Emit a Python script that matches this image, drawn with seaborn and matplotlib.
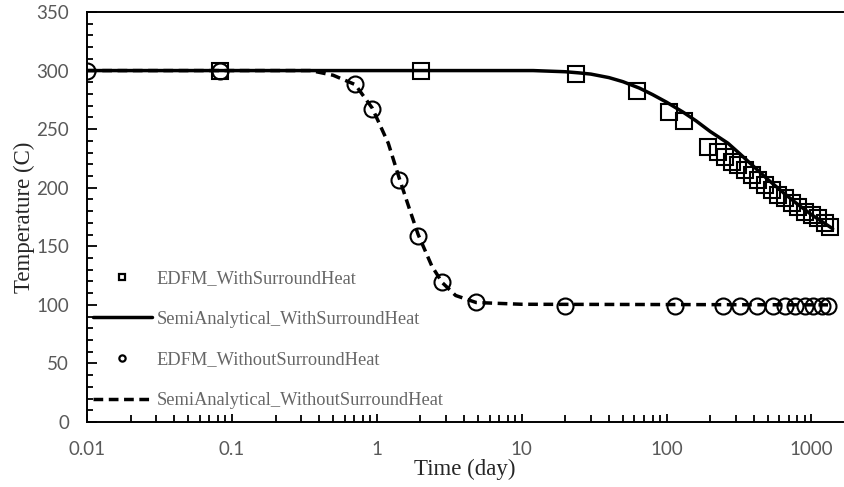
import matplotlib
matplotlib.use("Agg")
import matplotlib.pyplot as plt
from matplotlib.lines import Line2D
from matplotlib.ticker import LogLocator, FixedLocator, FixedFormatter, MultipleLocator, NullFormatter
import seaborn as sns
import numpy as np

# ---- data ----
edfm_with_t = [0.083, 2.03, 23.8, 62.7, 104, 132, 194, 227, 253, 283, 311, 348, 389, 428,
               478, 534, 588, 656, 734, 807, 902, 1008, 1108, 1238, 1342]
edfm_with_T = [300, 300, 297, 282.6, 264.6, 257, 234.8, 230.5, 226.2, 222, 219.4, 215.1,
               210.8, 206.6, 202.3, 198, 193.8, 191.2, 187, 183.5, 179.3, 176.7, 174.2,
               169.9, 166.5]

semi_with_t = [0.01, 12, 20, 25, 30, 40, 50, 65, 80, 100, 130, 160, 200, 265, 320, 400,
               500, 650, 800, 1000, 1400]
semi_with_T = [300, 300, 299, 298, 297, 294, 290.5, 285, 279.5, 273, 264.5, 257, 248, 238,
               229, 218, 207, 195, 186, 177, 165]

edfm_without_t = [0.01, 0.083, 0.71, 0.93, 1.43, 1.93, 2.83, 4.85, 20, 114, 245, 321, 421,
                  542, 656, 769, 901, 1024, 1180, 1299]
edfm_without_T = [300, 300, 288.5, 267, 206.6, 158.8, 119.5, 102.4, 99, 99, 99, 99, 99,
                  99, 99, 99, 99, 99, 99, 99]

semi_without_t = [0.01, 0.35, 0.5, 0.71, 0.93, 1.2, 1.43, 1.7, 1.93, 2.4, 2.83, 3.5, 4.85,
                  10, 1300]
semi_without_T = [300, 300, 296, 288, 268, 238, 208, 180, 160, 133, 119, 108, 102, 100.5, 100]

labels = ["EDFM_WithSurroundHeat", "SemiAnalytical_WithSurroundHeat",
          "EDFM_WithoutSurroundHeat", "SemiAnalytical_WithoutSurroundHeat"]
xtick_vals = [0.01, 0.1, 1, 10, 100, 1000]
xtick_labels = ["0.01", "0.1", "1", "10", "100", "1000"]
ytick_vals = [0, 50, 100, 150, 200, 250, 300, 350]

# ---- style ----
sns.set_theme(style="white")
plt.rcParams["font.family"] = ["Liberation Serif", "DejaVu Serif"]

W, H = 844, 487
fig = plt.figure(figsize=(W / 100, H / 100), dpi=100)
ax = fig.add_axes([87 / W, (H - 422) / H, (843 - 87) / W, (422 - 12) / H])

lw = 2.5
ms = 11.5
mew = 1.5
dash = (0, (2.8, 1.6))

sns.lineplot(x=semi_with_t, y=semi_with_T, ax=ax, color="black", linewidth=lw,
             linestyle="-", sort=False)
sns.lineplot(x=semi_without_t, y=semi_without_T, ax=ax, color="black", linewidth=lw,
             linestyle=dash, sort=False)
sns.lineplot(x=edfm_with_t, y=edfm_with_T, ax=ax, linestyle="", marker="s",
             markersize=ms, markerfacecolor="none", markeredgecolor="black",
             markeredgewidth=mew, color="black", sort=False)
sns.lineplot(x=edfm_without_t, y=edfm_without_T, ax=ax, linestyle="", marker="o",
             markersize=ms, markerfacecolor="none", markeredgecolor="black",
             markeredgewidth=mew, color="black", sort=False)

ax.set_xscale("log")
ax.set_xlim(0.01, 1650)
ax.set_ylim(0, 350)

ax.xaxis.set_major_locator(FixedLocator(xtick_vals))
ax.xaxis.set_major_formatter(FixedFormatter(xtick_labels))
ax.xaxis.set_minor_locator(LogLocator(base=10, subs=np.arange(2, 10)))
ax.xaxis.set_minor_formatter(NullFormatter())
ax.yaxis.set_major_locator(FixedLocator(ytick_vals))
ax.yaxis.set_minor_locator(MultipleLocator(10))

tick_col = "#595959"
ax.tick_params(axis="both", which="both", direction="in", color="black", width=1.3)
ax.tick_params(axis="x", which="major", length=6, pad=14, labelsize=13.5, labelcolor=tick_col)
ax.tick_params(axis="x", which="minor", length=5)
ax.tick_params(axis="y", which="major", length=7, pad=13, labelsize=13.5, labelcolor=tick_col)
ax.tick_params(axis="y", which="minor", length=4)
ax.tick_params(left=True, bottom=True, which="both")
for lab in ax.get_xticklabels() + ax.get_yticklabels():
    lab.set_family(["Lato", "DejaVu Sans"])

for side in ["left", "bottom", "top"]:
    ax.spines[side].set_visible(True)
    ax.spines[side].set_color("black")
    ax.spines[side].set_linewidth(1.4)
ax.spines["right"].set_visible(False)

ax.set_xlabel("Time (day)", fontsize=16.5, color="#262626", labelpad=0)
ax.set_ylabel("Temperature (C)", fontsize=16.5, color="#262626", labelpad=1)

handles = [
    Line2D([], [], linestyle="", marker="s", markersize=4.5, markerfacecolor="none",
           markeredgecolor="black", markeredgewidth=1.6),
    Line2D([], [], color="black", linewidth=lw, linestyle="-"),
    Line2D([], [], linestyle="", marker="o", markersize=4.5, markerfacecolor="none",
           markeredgecolor="black", markeredgewidth=1.6),
    Line2D([], [], color="black", linewidth=lw, linestyle=dash),
]
leg = ax.legend(handles, labels, loc="upper left", bbox_to_anchor=(93 / W, 1 - 270 / H),
                bbox_transform=fig.transFigure, frameon=False, fontsize=13.2,
                handlelength=3.2, handletextpad=0.27, labelspacing=1.29, borderpad=0,
                borderaxespad=0)
for t in leg.get_texts():
    t.set_color("#666666")

fig.savefig("out.png", dpi=100)
